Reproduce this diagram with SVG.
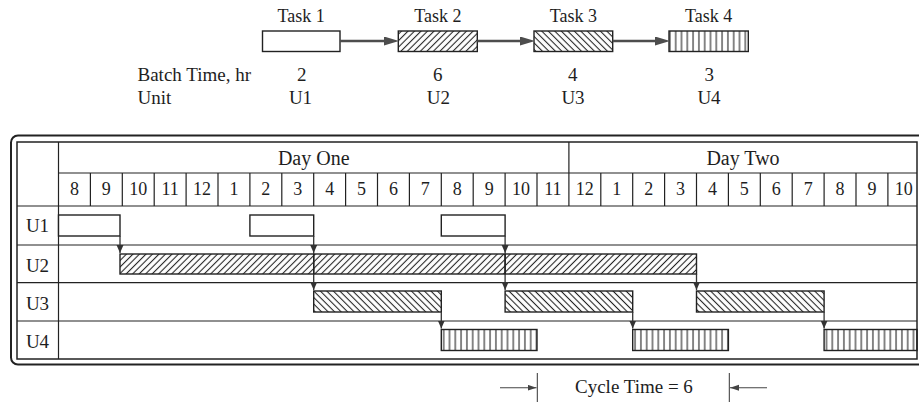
<svg xmlns="http://www.w3.org/2000/svg" width="919" height="402" viewBox="0 0 919 402">
<style>
text{font-family:"Liberation Serif","Times New Roman",serif;fill:#1e1e1e}
.t18{font-size:18px}
.t19{font-size:19px}
.t20{font-size:20px}
.c{text-anchor:middle}
.grid{stroke:#222;stroke-width:1.2;fill:none}
.thin{stroke:#333;stroke-width:1}
.bar{stroke:#222;stroke-width:1.4}
.farrow{stroke:#4d4d4d;stroke-width:2.6;fill:none}
.tarrow{stroke:#333;stroke-width:1.3;fill:none}
.carrow{stroke:#444;stroke-width:1.1;fill:none}
</style>
<defs>
<pattern id="fwd" width="4.6" height="10" patternUnits="userSpaceOnUse" patternTransform="rotate(45)"><line x1="2.3" y1="0" x2="2.3" y2="10" stroke="#222" stroke-width="1.1"/></pattern>
<pattern id="bwd" width="4.6" height="10" patternUnits="userSpaceOnUse" patternTransform="rotate(-45)"><line x1="2.3" y1="0" x2="2.3" y2="10" stroke="#222" stroke-width="1.1"/></pattern>
<pattern id="vert" width="5.8" height="10" patternUnits="userSpaceOnUse"><line x1="2.9" y1="0" x2="2.9" y2="10" stroke="#222" stroke-width="1.1"/></pattern>
<marker id="fhead" markerUnits="userSpaceOnUse" markerWidth="15" markerHeight="10" refX="6" refY="4.5" orient="auto"><path d="M0,0 L15,4.5 L0,9 z" fill="#4d4d4d"/></marker>
<marker id="thead" markerUnits="userSpaceOnUse" markerWidth="8" markerHeight="8" refX="8" refY="3.5" orient="auto"><path d="M0,0 L8,3.5 L0,7 z" fill="#333"/></marker>
<marker id="chead" markerUnits="userSpaceOnUse" markerWidth="9" markerHeight="7" refX="9" refY="3" orient="auto"><path d="M0,0 L9,3 L0,6 z" fill="#444"/></marker>
</defs>

<!-- Task flow -->
<g id="task1"><rect x="262.5" y="31" width="77.5" height="20.5" fill="#fff" class="bar"/><text class="t18 c" x="301.2" y="22">Task 1</text><text class="t19 c" x="301.7" y="81">2</text><text class="t19 c" x="300.5" y="104">U1</text></g>
<g id="task2"><rect x="398.3" y="31" width="79" height="20.5" fill="url(#fwd)" class="bar"/><text class="t18 c" x="437.8" y="22">Task 2</text><text class="t19 c" x="437.7" y="81">6</text><text class="t19 c" x="438.3" y="104">U2</text></g>
<g id="task3"><rect x="534" y="31" width="78.7" height="20.5" fill="url(#bwd)" class="bar"/><text class="t18 c" x="573.3" y="22">Task 3</text><text class="t19 c" x="572.7" y="81">4</text><text class="t19 c" x="573" y="104">U3</text></g>
<g id="task4"><rect x="669" y="31" width="79.3" height="20.5" fill="url(#vert)" class="bar"/><text class="t18 c" x="708.7" y="22">Task 4</text><text class="t19 c" x="709.3" y="81">3</text><text class="t19 c" x="709" y="104">U4</text></g>
<g id="rowlabels"><text class="t19" x="137.5" y="81">Batch Time, hr</text><text class="t19" x="137.5" y="104">Unit</text></g>
<g id="flow-connectors">
<line class="farrow" x1="340" y1="41" x2="390" y2="41" marker-end="url(#fhead)"/>
<line class="farrow" x1="477.3" y1="41" x2="526" y2="41" marker-end="url(#fhead)"/>
<line class="farrow" x1="612.7" y1="41" x2="661" y2="41" marker-end="url(#fhead)"/>
</g>

<!-- Table frame -->
<g id="frame">
<rect x="11" y="135.5" width="925" height="229" rx="7" fill="none" stroke="#222" stroke-width="2"/>
<rect x="17" y="142" width="900" height="217" fill="none" stroke="#222" stroke-width="1.5"/>
</g>
<g id="grid" class="grid">
<line x1="58.5" y1="142" x2="58.5" y2="359"/>
<line x1="58.5" y1="173" x2="917" y2="173"/>
<line x1="568.9" y1="142" x2="568.9" y2="206"/>
<line x1="17" y1="206" x2="917" y2="206"/>
<line x1="17" y1="245" x2="917" y2="245"/>
<line x1="17" y1="282.7" x2="917" y2="282.7"/>
<line x1="17" y1="321" x2="917" y2="321"/>
<path d="M90.4,173V206M122.3,173V206M154.2,173V206M186.1,173V206M218,173V206M249.9,173V206M281.8,173V206M313.7,173V206M345.6,173V206M377.5,173V206M409.4,173V206M441.3,173V206M473.2,173V206M505.1,173V206M537,173V206M600.8,173V206M632.7,173V206M664.6,173V206M696.5,173V206M728.4,173V206M760.3,173V206M792.2,173V206M824.1,173V206M856,173V206M887.9,173V206"/>
</g>
<g id="headers">
<text class="t20 c" x="313.7" y="165">Day One</text>
<text class="t20 c" x="743" y="165">Day Two</text>
<text class="t18 c" x="74.45" y="195">8</text>
<text class="t18 c" x="106.35" y="195">9</text>
<text class="t18 c" x="138.25" y="195">10</text>
<text class="t18 c" x="170.15" y="195">11</text>
<text class="t18 c" x="202.05" y="195">12</text>
<text class="t18 c" x="233.95" y="195">1</text>
<text class="t18 c" x="265.85" y="195">2</text>
<text class="t18 c" x="297.75" y="195">3</text>
<text class="t18 c" x="329.65" y="195">4</text>
<text class="t18 c" x="361.55" y="195">5</text>
<text class="t18 c" x="393.45" y="195">6</text>
<text class="t18 c" x="425.35" y="195">7</text>
<text class="t18 c" x="457.25" y="195">8</text>
<text class="t18 c" x="489.15" y="195">9</text>
<text class="t18 c" x="521.05" y="195">10</text>
<text class="t18 c" x="552.95" y="195">11</text>
<text class="t18 c" x="584.85" y="195">12</text>
<text class="t18 c" x="616.75" y="195">1</text>
<text class="t18 c" x="648.65" y="195">2</text>
<text class="t18 c" x="680.55" y="195">3</text>
<text class="t18 c" x="712.45" y="195">4</text>
<text class="t18 c" x="744.35" y="195">5</text>
<text class="t18 c" x="776.25" y="195">6</text>
<text class="t18 c" x="808.15" y="195">7</text>
<text class="t18 c" x="840.05" y="195">8</text>
<text class="t18 c" x="871.95" y="195">9</text>
<text class="t18 c" x="903.85" y="195">10</text>
<text class="t19 c" x="37.5" y="232">U1</text>
<text class="t19 c" x="37.5" y="271.7">U2</text>
<text class="t19 c" x="37.5" y="310">U3</text>
<text class="t19 c" x="37.5" y="348.3">U4</text>
</g>

<!-- Bars -->
<g id="u1-bars">
<rect x="58.5" y="215" width="61.5" height="21" fill="#fff" class="bar"/>
<rect x="249.9" y="215" width="63.8" height="21" fill="#fff" class="bar"/>
<rect x="441.3" y="215" width="63.8" height="21" fill="#fff" class="bar"/>
</g>
<g id="u2-bars">
<rect x="120" y="254" width="193.7" height="20" fill="url(#fwd)" class="bar"/>
<rect x="313.7" y="254" width="191.4" height="20" fill="url(#fwd)" class="bar"/>
<rect x="505.1" y="254" width="191.4" height="20" fill="url(#fwd)" class="bar"/>
</g>
<g id="u3-bars">
<rect x="313.7" y="291" width="127.6" height="21" fill="url(#bwd)" class="bar"/>
<rect x="505.1" y="291" width="127.6" height="21" fill="url(#bwd)" class="bar"/>
<rect x="696.5" y="291" width="127.6" height="21" fill="url(#bwd)" class="bar"/>
</g>
<g id="u4-bars">
<rect x="441.3" y="329.5" width="95.7" height="21" fill="url(#vert)" class="bar"/>
<rect x="632.7" y="329.5" width="95.7" height="21" fill="url(#vert)" class="bar"/>
<rect x="824.1" y="329.5" width="92.9" height="21" fill="url(#vert)" class="bar"/>
</g>
<g id="table-connectors">
<line class="tarrow" x1="120" y1="236" x2="120" y2="253" marker-end="url(#thead)"/>
<line class="tarrow" x1="313.7" y1="236" x2="313.7" y2="253" marker-end="url(#thead)"/>
<line class="tarrow" x1="505.1" y1="236" x2="505.1" y2="253" marker-end="url(#thead)"/>
<line class="tarrow" x1="313.7" y1="274" x2="313.7" y2="290" marker-end="url(#thead)"/>
<line class="tarrow" x1="505.1" y1="274" x2="505.1" y2="290" marker-end="url(#thead)"/>
<line class="tarrow" x1="696.5" y1="274" x2="696.5" y2="290" marker-end="url(#thead)"/>
<line class="tarrow" x1="441.3" y1="312" x2="441.3" y2="328.5" marker-end="url(#thead)"/>
<line class="tarrow" x1="632.7" y1="312" x2="632.7" y2="328.5" marker-end="url(#thead)"/>
<line class="tarrow" x1="824.1" y1="312" x2="824.1" y2="328.5" marker-end="url(#thead)"/>
</g>

<!-- Cycle time -->
<g id="cycle-time">
<line class="thin" x1="537.3" y1="373" x2="537.3" y2="402"/>
<line class="thin" x1="729.3" y1="373" x2="729.3" y2="402"/>
<line class="carrow" x1="500" y1="387.7" x2="536.5" y2="387.7" marker-end="url(#chead)"/>
<line class="carrow" x1="767" y1="387.7" x2="730" y2="387.7" marker-end="url(#chead)"/>
<text class="t19" x="575" y="393.3">Cycle Time = 6</text>
</g>
</svg>
